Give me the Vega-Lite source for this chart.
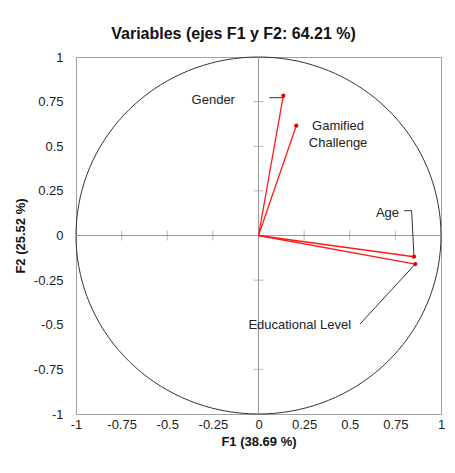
{
  "$schema": "https://vega.github.io/schema/vega-lite/v6.json",
  "width": 365,
  "height": 357,
  "autosize": {"type": "none"},
  "padding": {"left": 76, "top": 57, "right": 14, "bottom": 59},
  "background": "white",
  "title": {
    "text": "Variables (ejes F1 y F2: 64.21 %)",
    "font": "Liberation Sans",
    "fontSize": 16,
    "fontWeight": "bold",
    "color": "#111111",
    "anchor": "middle",
    "dx": -25,
    "offset": 9
  },
  "config": {
    "view": {"stroke": "#a0a0a0", "strokeWidth": 1},
    "axis": {
      "domain": false,
      "ticks": false,
      "grid": false,
      "labelFont": "Liberation Sans",
      "labelFontSize": 13,
      "labelColor": "#222222",
      "labelFlush": false,
      "labelOverlap": false,
      "titleFont": "Liberation Sans",
      "titleFontSize": 13,
      "titleFontWeight": "bold",
      "titleColor": "#111111",
      "labelExpr": "'' + datum.value"
    },
    "axisX": {"labelPadding": 4, "titlePadding": 4},
    "axisY": {"labelPadding": 13, "titlePadding": 6}
  },
  "datasets": {
    "circle": [
      {"deg": 0, "x": 1, "y": 0}, {"deg": 10, "x": 0.9848, "y": 0.1736}, {"deg": 20, "x": 0.9397, "y": 0.342},
      {"deg": 30, "x": 0.866, "y": 0.5}, {"deg": 40, "x": 0.766, "y": 0.6428}, {"deg": 50, "x": 0.6428, "y": 0.766},
      {"deg": 60, "x": 0.5, "y": 0.866}, {"deg": 70, "x": 0.342, "y": 0.9397}, {"deg": 80, "x": 0.1736, "y": 0.9848},
      {"deg": 90, "x": 0, "y": 1}, {"deg": 100, "x": -0.1736, "y": 0.9848}, {"deg": 110, "x": -0.342, "y": 0.9397},
      {"deg": 120, "x": -0.5, "y": 0.866}, {"deg": 130, "x": -0.6428, "y": 0.766}, {"deg": 140, "x": -0.766, "y": 0.6428},
      {"deg": 150, "x": -0.866, "y": 0.5}, {"deg": 160, "x": -0.9397, "y": 0.342}, {"deg": 170, "x": -0.9848, "y": 0.1736},
      {"deg": 180, "x": -1, "y": 0}, {"deg": 190, "x": -0.9848, "y": -0.1736}, {"deg": 200, "x": -0.9397, "y": -0.342},
      {"deg": 210, "x": -0.866, "y": -0.5}, {"deg": 220, "x": -0.766, "y": -0.6428}, {"deg": 230, "x": -0.6428, "y": -0.766},
      {"deg": 240, "x": -0.5, "y": -0.866}, {"deg": 250, "x": -0.342, "y": -0.9397}, {"deg": 260, "x": -0.1736, "y": -0.9848},
      {"deg": 270, "x": 0, "y": -1}, {"deg": 280, "x": 0.1736, "y": -0.9848}, {"deg": 290, "x": 0.342, "y": -0.9397},
      {"deg": 300, "x": 0.5, "y": -0.866}, {"deg": 310, "x": 0.6428, "y": -0.766}, {"deg": 320, "x": 0.766, "y": -0.6428},
      {"deg": 330, "x": 0.866, "y": -0.5}, {"deg": 340, "x": 0.9397, "y": -0.342}, {"deg": 350, "x": 0.9848, "y": -0.1736}
    ],
    "vars": [
      {"name": "Gender", "x": 0.136, "y": 0.783},
      {"name": "Gamified Challenge", "x": 0.207, "y": 0.615},
      {"name": "Age", "x": 0.852, "y": -0.119},
      {"name": "Educational Level", "x": 0.859, "y": -0.16}
    ],
    "leaders": [
      {"name": "Gender", "seq": 1, "x": 0.059, "y": 0.772},
      {"name": "Gender", "seq": 2, "x": 0.136, "y": 0.772},
      {"name": "Age", "seq": 1, "x": 0.797, "y": 0.139},
      {"name": "Age", "seq": 2, "x": 0.839, "y": 0.139},
      {"name": "Age", "seq": 3, "x": 0.852, "y": -0.119},
      {"name": "Educational Level", "seq": 1, "x": 0.556, "y": -0.496},
      {"name": "Educational Level", "seq": 2, "x": 0.859, "y": -0.16}
    ],
    "labels": [
      {"text": "Gender", "x": -0.129, "y": 0.759},
      {"text": "Age", "x": 0.77, "y": 0.128},
      {"text": "Educational Level", "x": 0.507, "y": -0.499}
    ],
    "clabels": [
      {"text": "Gamified\nChallenge", "x": 0.436, "y": 0.611}
    ],
    "xticks": [
      {"x": -0.75, "y": 0}, {"x": -0.5, "y": 0}, {"x": -0.25, "y": 0},
      {"x": 0.25, "y": 0}, {"x": 0.5, "y": 0}, {"x": 0.75, "y": 0}
    ],
    "yticks": [
      {"x": 0, "y": -0.75}, {"x": 0, "y": -0.5}, {"x": 0, "y": -0.25},
      {"x": 0, "y": 0.25}, {"x": 0, "y": 0.5}, {"x": 0, "y": 0.75}
    ],
    "zero": [{"x": 0, "y": 0}]
  },
  "layer": [
    {
      "data": {"name": "circle"},
      "mark": {"type": "line", "interpolate": "cardinal-closed", "color": "#333333", "strokeWidth": 1},
      "encoding": {
        "x": {"field": "x", "type": "quantitative", "scale": {"domain": [-1, 1], "nice": false, "zero": false}, "title": "F1 (38.69 %)", "axis": {"values": [-1, -0.75, -0.5, -0.25, 0, 0.25, 0.5, 0.75, 1]}},
        "y": {"field": "y", "type": "quantitative", "scale": {"domain": [-1, 1], "nice": false, "zero": false}, "title": "F2 (25.52 %)", "axis": {"values": [-1, -0.75, -0.5, -0.25, 0, 0.25, 0.5, 0.75, 1]}},
        "order": {"field": "deg", "type": "quantitative"}
      }
    },
    {
      "data": {"name": "zero"},
      "mark": {"type": "rule", "color": "#999999", "strokeWidth": 1},
      "encoding": {
        "x": {"field": "x", "type": "quantitative", "scale": {"domain": [-1, 1], "nice": false, "zero": false}, "title": "F1 (38.69 %)", "axis": {"values": [-1, -0.75, -0.5, -0.25, 0, 0.25, 0.5, 0.75, 1]}}
      }
    },
    {
      "data": {"name": "zero"},
      "mark": {"type": "rule", "color": "#999999", "strokeWidth": 1},
      "encoding": {
        "y": {"field": "y", "type": "quantitative", "scale": {"domain": [-1, 1], "nice": false, "zero": false}, "title": "F2 (25.52 %)", "axis": {"values": [-1, -0.75, -0.5, -0.25, 0, 0.25, 0.5, 0.75, 1]}}
      }
    },
    {
      "data": {"name": "xticks"},
      "mark": {"type": "tick", "orient": "vertical", "color": "#999999", "size": 10, "thickness": 1},
      "encoding": {
        "x": {"field": "x", "type": "quantitative", "scale": {"domain": [-1, 1], "nice": false, "zero": false}, "title": "F1 (38.69 %)", "axis": {"values": [-1, -0.75, -0.5, -0.25, 0, 0.25, 0.5, 0.75, 1]}},
        "y": {"field": "y", "type": "quantitative", "scale": {"domain": [-1, 1], "nice": false, "zero": false}, "title": "F2 (25.52 %)", "axis": {"values": [-1, -0.75, -0.5, -0.25, 0, 0.25, 0.5, 0.75, 1]}}
      }
    },
    {
      "data": {"name": "yticks"},
      "mark": {"type": "tick", "orient": "horizontal", "color": "#999999", "size": 10, "thickness": 1},
      "encoding": {
        "x": {"field": "x", "type": "quantitative", "scale": {"domain": [-1, 1], "nice": false, "zero": false}, "title": "F1 (38.69 %)", "axis": {"values": [-1, -0.75, -0.5, -0.25, 0, 0.25, 0.5, 0.75, 1]}},
        "y": {"field": "y", "type": "quantitative", "scale": {"domain": [-1, 1], "nice": false, "zero": false}, "title": "F2 (25.52 %)", "axis": {"values": [-1, -0.75, -0.5, -0.25, 0, 0.25, 0.5, 0.75, 1]}}
      }
    },
    {
      "data": {"name": "leaders"},
      "mark": {"type": "line", "color": "#333333", "strokeWidth": 1},
      "encoding": {
        "x": {"field": "x", "type": "quantitative", "scale": {"domain": [-1, 1], "nice": false, "zero": false}, "title": "F1 (38.69 %)", "axis": {"values": [-1, -0.75, -0.5, -0.25, 0, 0.25, 0.5, 0.75, 1]}},
        "y": {"field": "y", "type": "quantitative", "scale": {"domain": [-1, 1], "nice": false, "zero": false}, "title": "F2 (25.52 %)", "axis": {"values": [-1, -0.75, -0.5, -0.25, 0, 0.25, 0.5, 0.75, 1]}},
        "detail": {"field": "name"},
        "order": {"field": "seq", "type": "quantitative"}
      }
    },
    {
      "data": {"name": "vars"},
      "mark": {"type": "rule", "color": "#ff1a1a", "strokeWidth": 1.3},
      "encoding": {
        "x": {"field": "x", "type": "quantitative", "scale": {"domain": [-1, 1], "nice": false, "zero": false}, "title": "F1 (38.69 %)", "axis": {"values": [-1, -0.75, -0.5, -0.25, 0, 0.25, 0.5, 0.75, 1]}},
        "y": {"field": "y", "type": "quantitative", "scale": {"domain": [-1, 1], "nice": false, "zero": false}, "title": "F2 (25.52 %)", "axis": {"values": [-1, -0.75, -0.5, -0.25, 0, 0.25, 0.5, 0.75, 1]}},
        "x2": {"datum": 0},
        "y2": {"datum": 0}
      }
    },
    {
      "data": {"name": "vars"},
      "mark": {"type": "point", "filled": true, "shape": "circle", "color": "#e60000", "size": 18, "opacity": 1},
      "encoding": {
        "x": {"field": "x", "type": "quantitative", "scale": {"domain": [-1, 1], "nice": false, "zero": false}, "title": "F1 (38.69 %)", "axis": {"values": [-1, -0.75, -0.5, -0.25, 0, 0.25, 0.5, 0.75, 1]}},
        "y": {"field": "y", "type": "quantitative", "scale": {"domain": [-1, 1], "nice": false, "zero": false}, "title": "F2 (25.52 %)", "axis": {"values": [-1, -0.75, -0.5, -0.25, 0, 0.25, 0.5, 0.75, 1]}}
      }
    },
    {
      "data": {"name": "labels"},
      "mark": {"type": "text", "align": "right", "baseline": "middle", "font": "Liberation Sans", "fontSize": 13, "color": "#222222"},
      "encoding": {
        "x": {"field": "x", "type": "quantitative", "scale": {"domain": [-1, 1], "nice": false, "zero": false}, "title": "F1 (38.69 %)", "axis": {"values": [-1, -0.75, -0.5, -0.25, 0, 0.25, 0.5, 0.75, 1]}},
        "y": {"field": "y", "type": "quantitative", "scale": {"domain": [-1, 1], "nice": false, "zero": false}, "title": "F2 (25.52 %)", "axis": {"values": [-1, -0.75, -0.5, -0.25, 0, 0.25, 0.5, 0.75, 1]}},
        "text": {"field": "text"}
      }
    },
    {
      "data": {"name": "clabels"},
      "mark": {"type": "text", "align": "center", "baseline": "middle", "lineBreak": "\n", "lineHeight": 17, "font": "Liberation Sans", "fontSize": 13, "color": "#222222"},
      "encoding": {
        "x": {"field": "x", "type": "quantitative", "scale": {"domain": [-1, 1], "nice": false, "zero": false}, "title": "F1 (38.69 %)", "axis": {"values": [-1, -0.75, -0.5, -0.25, 0, 0.25, 0.5, 0.75, 1]}},
        "y": {"field": "y", "type": "quantitative", "scale": {"domain": [-1, 1], "nice": false, "zero": false}, "title": "F2 (25.52 %)", "axis": {"values": [-1, -0.75, -0.5, -0.25, 0, 0.25, 0.5, 0.75, 1]}},
        "text": {"field": "text"}
      }
    }
  ]
}
